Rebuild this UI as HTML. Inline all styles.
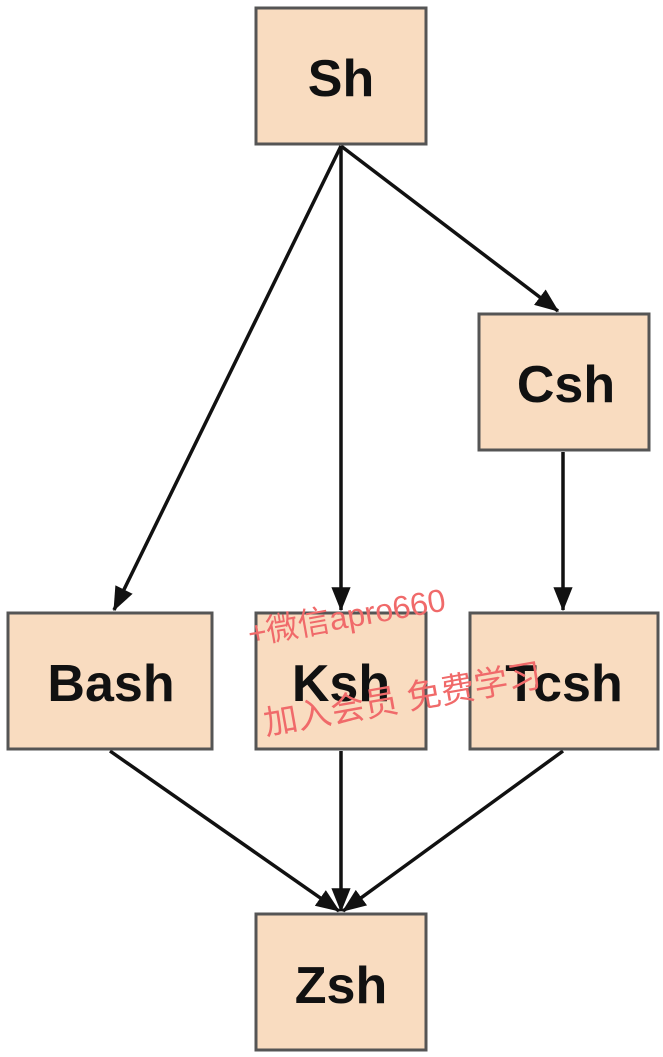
<!DOCTYPE html>
<html><head><meta charset="utf-8"><style>
html,body{margin:0;padding:0;background:#fff;width:663px;height:1057px;overflow:hidden}
</style></head><body>
<svg width="663" height="1057" viewBox="0 0 663 1057" xmlns="http://www.w3.org/2000/svg">
<defs>
<marker id="ah" viewBox="0 0 20 20" refX="19" refY="10" markerWidth="24" markerHeight="24" markerUnits="userSpaceOnUse" orient="auto">
<path d="M0,2 L20,10 L0,18 Z" fill="#111"/>
</marker>
</defs>
<g stroke="#111" stroke-width="3.5" fill="none" marker-end="url(#ah)">
<line x1="341" y1="146" x2="114" y2="610"/>
<line x1="341" y1="146" x2="341" y2="610"/>
<line x1="341" y1="146" x2="558" y2="311"/>
<line x1="563" y1="452" x2="563" y2="610"/>
<line x1="110" y1="751" x2="339" y2="911"/>
<line x1="341" y1="751" x2="341" y2="911"/>
<line x1="563" y1="751" x2="343" y2="911"/>
</g>
<g fill="#f9dcc0" stroke="#555" stroke-width="3">
<rect x="256" y="8" width="170" height="136"/>
<rect x="479" y="314" width="170" height="136"/>
<rect x="8" y="613" width="204" height="136"/>
<rect x="256" y="613" width="170" height="136"/>
<rect x="470" y="613" width="188" height="136"/>
<rect x="256" y="914" width="170" height="136"/>
</g>
<g font-family="Liberation Sans, sans-serif" font-weight="bold" font-size="52" fill="#111" text-anchor="middle">
<text x="341" y="96">Sh</text>
<text x="566" y="402">Csh</text>
<text x="111" y="701">Bash</text>
<text x="341" y="701">Ksh</text>
<text x="564" y="701">Tcsh</text>
<text x="341" y="1003">Zsh</text>
</g>
<g font-family="Liberation Sans, 'Noto Sans CJK SC', sans-serif" font-size="32" fill="#f06a6a">
<text x="250" y="645" transform="rotate(-10 250 645)">+微信apro660</text>
<text x="266" y="735" font-size="34" transform="rotate(-10 266 735)">加入会员  免费学习</text>
</g>
</svg>
</body></html>
